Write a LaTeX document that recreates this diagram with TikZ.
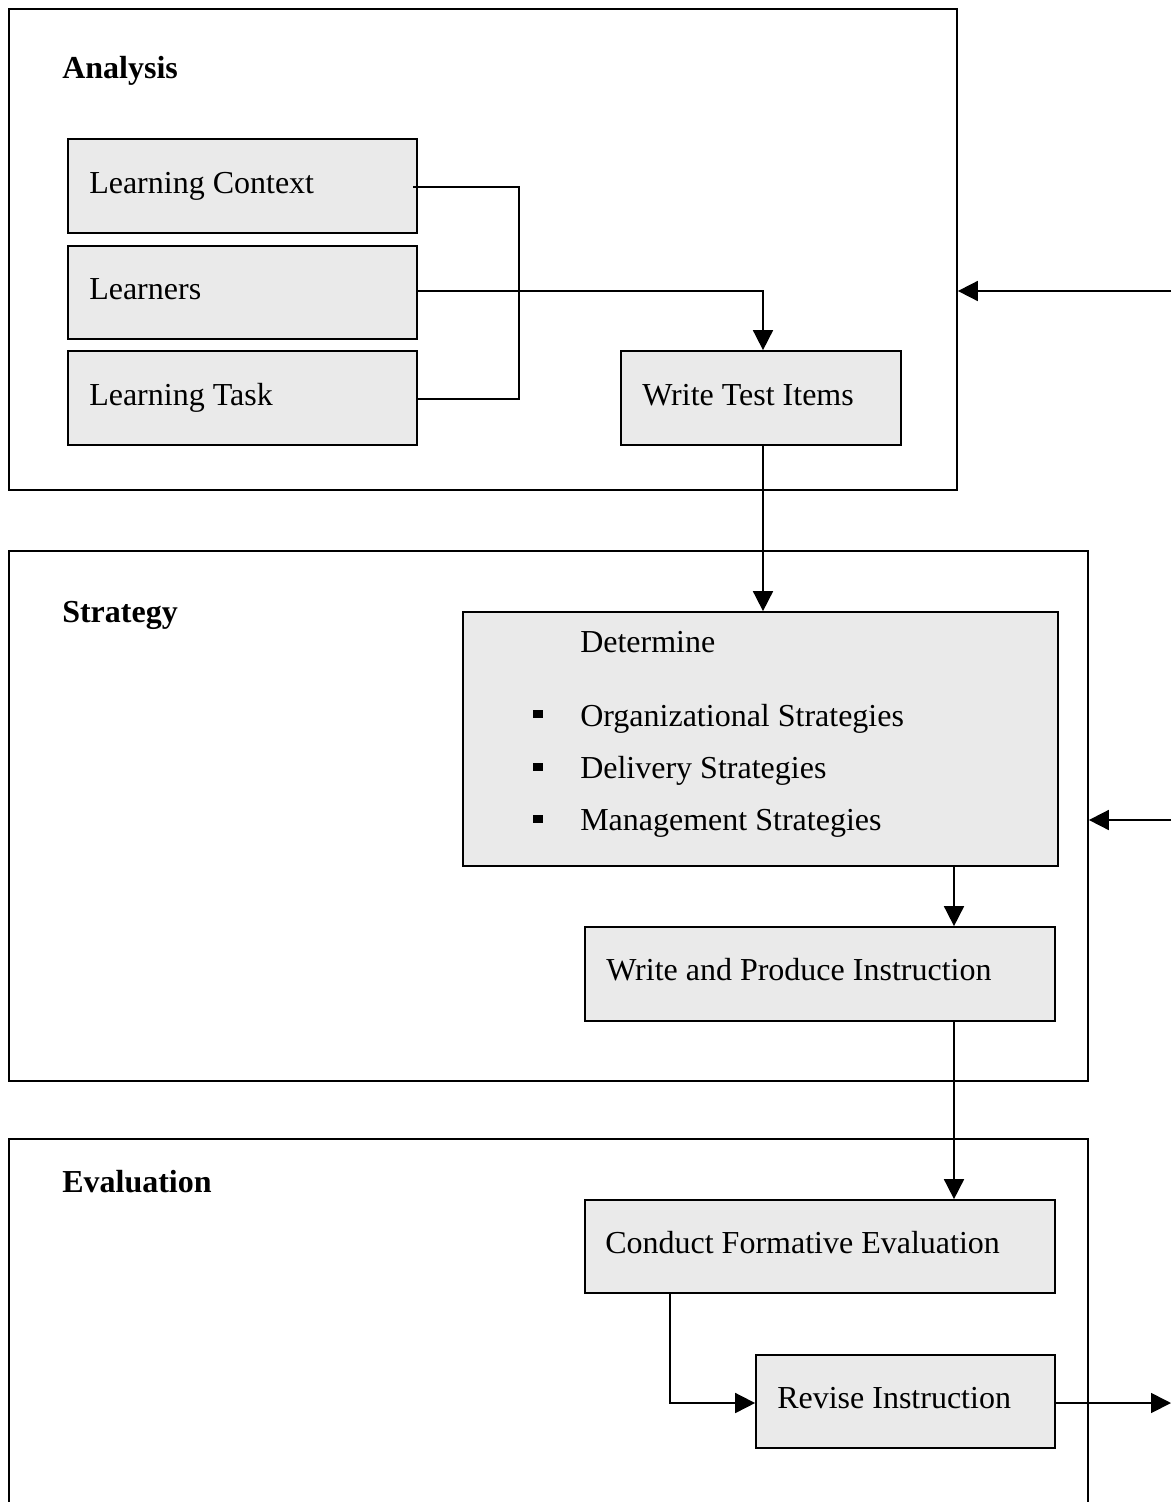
\documentclass[tikz,border=0pt]{standalone}
\usepackage{fontspec}
\setmainfont{Liberation Serif}
\usetikzlibrary{fit,arrows.meta}
\definecolor{boxgray}{HTML}{EAEAEA}
\tikzset{
  frame/.style={draw, line width=1.3pt, inner sep=0pt},
  stepbox/.style={draw, fill=boxgray, line width=1.3pt, inner sep=0pt},
  lbl/.style={anchor=base west, inner sep=0pt, font=\fontsize{24}{28}\selectfont},
  title/.style={anchor=base west, inner sep=0pt, font=\fontsize{24}{28}\selectfont\bfseries},
  conn/.style={line width=1.3pt},
  arr/.style={line width=1.3pt, -{Triangle[length=15pt,width=15pt]}},
  bul/.style={fill=black, inner sep=0pt, minimum width=7.5pt, minimum height=6.5pt},
}
\begin{document}
\begin{tikzpicture}[x=0.75pt,y=-0.75pt]
\useasboundingbox (0,0) rectangle (1171,1502);
% section frames
\node[frame, fit={(9,9) (957,490)}] (analysis) {};
\node[frame, fit={(9,551) (1088,1081)}] (strategy) {};
\draw[conn] (9,1520) -- (9,1139) -- (1088,1139) -- (1088,1520);
% titles
\node[title] (tA) at (62,79) {Analysis};
\node[title] (tS) at (62,622) {Strategy};
\node[title] (tE) at (62,1192) {Evaluation};
% analysis boxes
\node[stepbox, fit={(68,139) (417,233)}] (ctx) {};
\node[lbl] (ctxT) at (89,193) {Learning Context};
\node[stepbox, fit={(68,246) (417,339)}] (lrn) {};
\node[lbl] (lrnT) at (89,299) {Learners};
\node[stepbox, fit={(68,351) (417,445)}] (task) {};
\node[lbl] (taskT) at (89,405) {Learning Task};
\node[stepbox, fit={(621,351) (901,445)}] (wti) {};
\node[lbl] (wtiT) at (642,405) {Write Test Items};
% strategy boxes
\node[stepbox, fit={(463,612) (1058,866)}] (det) {};
\node[lbl] (detT) at (580,652) {Determine};
\node[bul] (b1) at (538,714) {};
\node[lbl] (o1) at (580,726) {Organizational Strategies};
\node[bul] (b2) at (538,767) {};
\node[lbl] (o2) at (580,778) {Delivery Strategies};
\node[bul] (b3) at (538,819) {};
\node[lbl] (o3) at (580,830) {Management Strategies};
\node[stepbox, fit={(585,927) (1055,1021)}] (wpi) {};
\node[lbl] (wpiT) at (606,980) {Write and Produce Instruction};
% evaluation boxes
\node[stepbox, fit={(585,1200) (1055,1293)}] (cfe) {};
\node[lbl] (cfeT) at (605,1253) {Conduct Formative Evaluation};
\node[stepbox, fit={(756,1355) (1055,1448)}] (rev) {};
\node[lbl] (revT) at (777,1408) {Revise Instruction};
% right-edge coordinates
\coordinate (inA) at (1171,291);
\coordinate (inS) at (1171,820);
\coordinate (outE) at (1171,1403);
% connectors
\draw[conn] (413,187) -- (519,187) -- (519,399) -- (task.east |- 0,399);
\draw[arr] (lrn.east |- 0,291) -- (763,291) -- (wti.north -| 763,0);
\draw[arr] (wti.south -| 763,0) -- (det.north -| 763,0);
\draw[arr] (det.south -| 954,0) -- (wpi.north -| 954,0);
\draw[arr] (wpi.south -| 954,0) -- (cfe.north -| 954,0);
\draw[arr] (cfe.south -| 670,0) -- (670,1403) -- (rev.west |- 0,1403);
\draw[arr] (rev.east |- 0,1403) -- (outE);
\draw[arr] (inA) -- (analysis.east |- inA);
\draw[arr] (inS) -- (strategy.east |- inS);
\end{tikzpicture}
\end{document}
